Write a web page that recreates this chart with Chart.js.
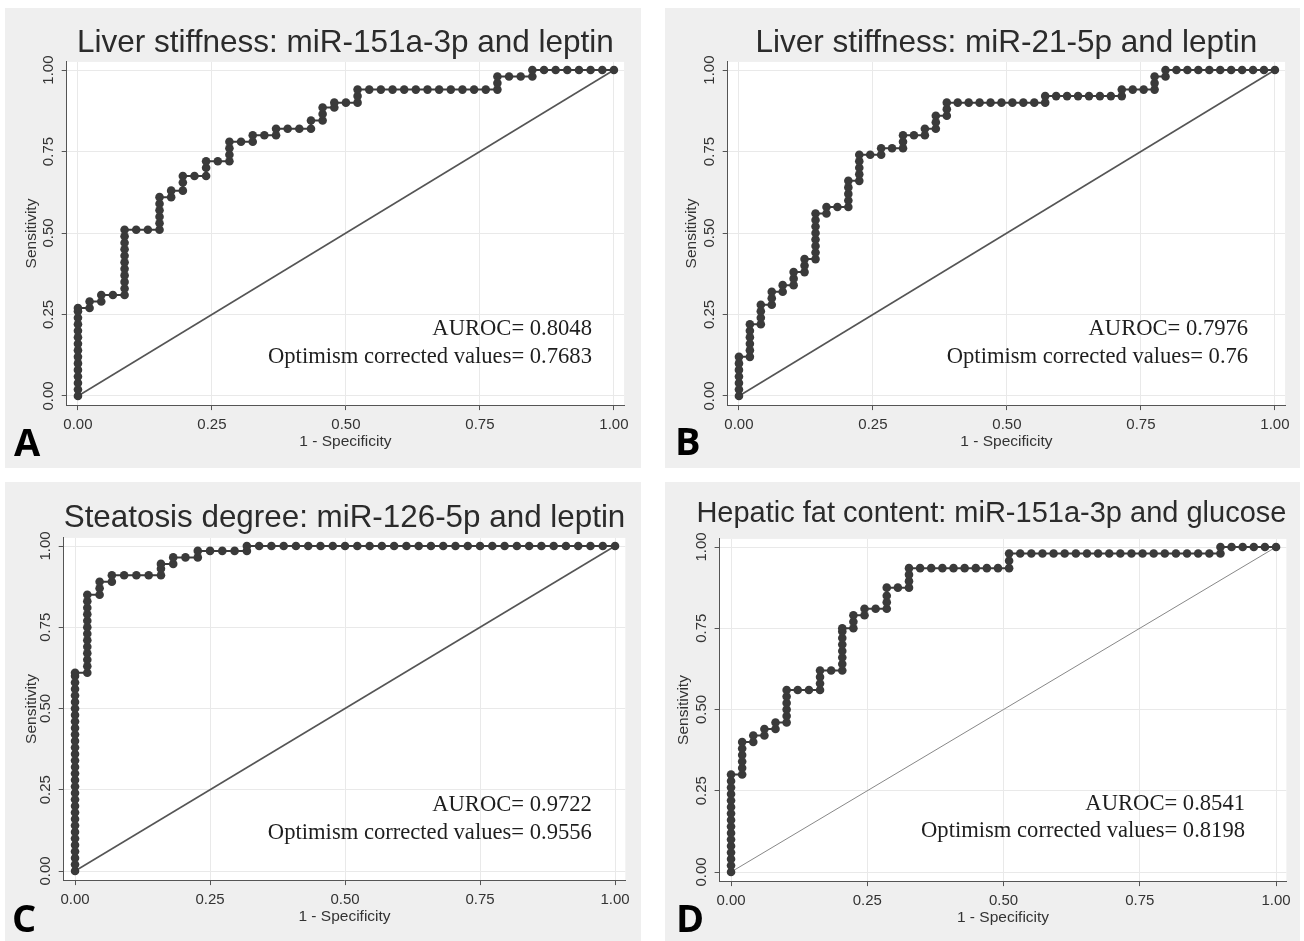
<!DOCTYPE html>
<html><head><meta charset="utf-8">
<script src="https://cdn.jsdelivr.net/npm/chart.js@4.4.1/dist/chart.umd.min.js"></script>
<style>
html,body{margin:0;padding:0;background:#fff;}
#page{position:relative;width:1304px;height:941px;overflow:hidden;background:#fff;}
.panel{position:absolute;background:#efefef;}
.panel canvas{position:absolute;left:0;top:0;}
</style></head><body><div id="page">
<div class="panel" style="left:5px;top:8px;width:636px;height:460px"><canvas id="cA" width="636" height="460"></canvas></div>
<div class="panel" style="left:665px;top:8px;width:635px;height:460px"><canvas id="cB" width="635" height="460"></canvas></div>
<div class="panel" style="left:5px;top:482px;width:636px;height:459px"><canvas id="cC" width="636" height="459"></canvas></div>
<div class="panel" style="left:665px;top:482px;width:635px;height:459px"><canvas id="cD" width="635" height="459"></canvas></div>
</div>
<script>
// ---------------- data ----------------
const X_TICKS = [0, 0.25, 0.5, 0.75, 1];
const Y_TICKS = [0, 0.25, 0.5, 0.75, 1];
const TITLES = ['Liver stiffness: miR-151a-3p and leptin', 'Liver stiffness: miR-21-5p and leptin',
  'Steatosis degree: miR-126-5p and leptin', 'Hepatic fat content: miR-151a-3p and glucose'];
const LETTERS = ['A', 'B', 'C', 'D'];
const AUROC = ['0.8048', '0.7976', '0.9722', '0.8541'];
const OPTIMISM = ['0.7683', '0.76', '0.9556', '0.8198'];
const X_TITLE = '1 - Specificity';
const Y_TITLE = 'Sensitivity';

// Panel A
const A_fpr = [
  0,0,0,0,0,0,0,0,0,0,0,0,0,0,0,
  .0217,.0217, .0435,.0435, .0652,
  .087,.087,.087,.087,.087,.087,.087,.087,.087,.087,.087,
  .1087, .1304,
  .1522,.1522,.1522,.1522,.1522,.1522,
  .1739,.1739, .1957,.1957,.1957, .2174, .2391,.2391,.2391, .2609,
  .2826,.2826,.2826,.2826, .3043, .3261,.3261, .3478, .3696,.3696, .3913, .413,
  .4348,.4348, .4565,.4565,.4565, .4783,.4783, .5, .5217,.5217,.5217,
  .5435,.5652,.587,.6087,.6304,.6522,.6739,.6957,.7174,.7391,.7609,
  .7826,.7826,.7826, .8043, .8261, .8478,.8478,
  .8696,.8913,.913,.9348,.9565,.9783,1];
const A_sens = [
  0,.02,.04,.06,.08,.10,.12,.14,.16,.18,.20,.22,.24,.26,.27,
  .27,.29, .29,.31, .31,
  .31,.33,.35,.37,.39,.41,.43,.45,.47,.49,.51,
  .51, .51,
  .51,.53,.55,.57,.59,.61,
  .61,.63, .63,.655,.675, .675, .675,.70,.72, .72,
  .72,.74,.76,.78, .78, .78,.80, .80, .80,.82, .82, .82,
  .82,.845, .845,.865,.885, .885,.90, .90, .90,.92,.94,
  .94,.94,.94,.94,.94,.94,.94,.94,.94,.94,.94,
  .94,.96,.98, .98, .98, .98,1,
  1,1,1,1,1,1,1];

// Panel B
const B_fpr = [
  0,0,0,0,0,0,0,
  .0204,.0204,.0204,.0204,.0204,.0204,
  .0408,.0408,.0408,.0408,
  .0612,.0612,.0612,
  .0816,.0816,
  .102,.102,.102,
  .1224,.1224,.1224,
  .1429,.1429,.1429,.1429,.1429,.1429,.1429,.1429,
  .1633,.1633, .1837,
  .2041,.2041,.2041,.2041,.2041,
  .2245,.2245,.2245,.2245,.2245,
  .2449, .2653,.2653, .2857, .3061,.3061,.3061, .3265, .3469,.3469,
  .3673,.3673,.3673, .3878,.3878,.3878,
  .4082,.4286,.449,.4694,.4898,.5102,.5306,.551,
  .5714,.5714,
  .5918,.6122,.6327,.6531,.6735,.6939,
  .7143,.7143, .7347, .7551, .7755,.7755,.7755, .7959,.7959,
  .8163,.8367,.8571,.8776,.898,.9184,.9388,.9592,.9796,1];
const B_sens = [
  0,.02,.04,.06,.08,.10,.12,
  .12,.14,.16,.18,.20,.22,
  .22,.24,.26,.28,
  .28,.30,.32,
  .32,.34,
  .34,.36,.38,
  .38,.40,.42,
  .42,.44,.46,.48,.50,.52,.54,.56,
  .56,.58, .58,
  .58,.60,.62,.64,.66,
  .66,.68,.70,.72,.74,
  .74, .74,.76, .76, .76,.78,.80, .80, .80,.82,
  .82,.84,.86, .86,.88,.90,
  .90,.90,.90,.90,.90,.90,.90,.90,
  .90,.92,
  .92,.92,.92,.92,.92,.92,
  .92,.94, .94, .94, .94,.96,.98, .98,1,
  1,1,1,1,1,1,1,1,1,1];

// Panel C
const C_fpr = [
  0,0,0,0,0,0,0,0,0,0,0,0,0,0,0,0,0,0,0,0,0,0,0,0,0,0,0,0,0,0,0,0,
  .0227,.0227,.0227,.0227,.0227,.0227,.0227,.0227,.0227,.0227,.0227,.0227,.0227,
  .0455,.0455,.0455, .0682,.0682,
  .0909,.1136,.1364,
  .1591,.1591,.1591, .1818,.1818, .2045, .2273,.2273,
  .25,.2727,.2955, .3182,.3182,
  .3409,.3636,.3864,.4091,.4318,.4545,.4773,.5,.5227,.5455,.5682,.5909,.6136,.6364,.6591,
  .6818,.7045,.7273,.75,.7727,.7955,.8182,.8409,.8636,.8864,.9091,.9318,.9545,.9773,1];
const C_sens = [
  0,.02,.04,.06,.08,.10,.12,.14,.16,.18,.20,.22,.24,.26,.28,.30,.32,.34,.36,.38,.40,.42,.44,.46,.48,.50,.52,.54,.56,.58,.60,.61,
  .61,.63,.65,.67,.69,.71,.73,.75,.77,.79,.81,.83,.85,
  .85,.87,.89, .89,.91,
  .91,.91,.91,
  .91,.93,.945, .945,.965, .965, .965,.985,
  .985,.985,.985, .985,1,
  1,1,1,1,1,1,1,1,1,1,1,1,1,1,1,
  1,1,1,1,1,1,1,1,1,1,1,1,1,1,1];

// Panel D
const D_fpr = [
  0,0,0,0,0,0,0,0,0,0,0,0,0,0,0,0,
  .0204,.0204,.0204,.0204,.0204,.0204,
  .0408,.0408, .0612,.0612, .0816,.0816,
  .102,.102,.102,.102,.102,.102,
  .1224, .1429,
  .1633,.1633,.1633,.1633, .1837,
  .2041,.2041,.2041,.2041,.2041,.2041,.2041,.2041,
  .2245,.2245,.2245, .2449,.2449, .2653,
  .2857,.2857,.2857,.2857, .3061, .3265,.3265,.3265,.3265,
  .3469,.3673,.3878,.4082,.4286,.449,.4694,.4898,
  .5102,.5102,.5102,
  .5306,.551,.5714,.5918,.6122,.6327,.6531,.6735,.6939,.7143,.7347,.7551,.7755,.7959,.8163,.8367,.8571,.8776,
  .898,.898,
  .9184,.9388,.9592,.9796,1];
const D_sens = [
  0,.02,.04,.06,.08,.10,.12,.14,.16,.18,.20,.22,.24,.26,.28,.30,
  .30,.32,.34,.36,.38,.40,
  .40,.42, .42,.44, .44,.46,
  .46,.48,.50,.52,.54,.56,
  .56, .56,
  .56,.58,.60,.62, .62,
  .62,.64,.66,.68,.70,.72,.74,.75,
  .75,.77,.79, .79,.81, .81,
  .81,.83,.85,.875, .875, .875,.895,.915,.935,
  .935,.935,.935,.935,.935,.935,.935,.935,
  .935,.958,.98,
  .98,.98,.98,.98,.98,.98,.98,.98,.98,.98,.98,.98,.98,.98,.98,.98,.98,.98,
  .98,1,
  1,1,1,1,1];

const FPR = [A_fpr, B_fpr, C_fpr, D_fpr];
const SENS = [A_sens, B_sens, C_sens, D_sens];

// ---------------- layout / style ----------------
const PANELS = [
  {id:'cA', pl:8, pr:16.9, pb:16.6, yw:53.7, tSize:31.5, tTop:16.1, tBot:0, tFull:false, tAlign:'center', yTitlePad:9.7, lx:9,  ly:448, ax:0.959, ay:[0.206,0.12], diagColor:'#555', diagW:1.6},
  {id:'cB', pl:8, pr:14.9, pb:16.6, yw:54.7, tSize:31.5, tTop:16.1, tBot:0, tFull:false, tAlign:'center', yTitlePad:9.7, lx:10, ly:447, ax:0.950, ay:[0.206,0.12], diagColor:'#555', diagW:1.6},
  {id:'cC', pl:8, pr:15.7, pb:14.6, yw:50.7, tSize:31.5, tTop:17.1, tBot:1.0, tFull:false, tAlign:'center', yTitlePad:9.7, lx:7,  ly:450, ax:0.957, ay:[0.203,0.117], diagColor:'#555', diagW:1.6},
  {id:'cD', pl:8, pr:13.6, pb:13.6, yw:46.6, tSize:29,   tTop:14.6, tBot:7.5, tFull:true,  tAlign:'end',    yTitlePad:1.7, lx:11, ly:450, ax:0.943, ay:[0.209,0.126], diagColor:'#888', diagW:1}
];
const X_MIN = -0.021, X_MAX = 1.019, Y_MIN = -0.028, Y_MAX = 1.025;

const plotBg = {
  id: 'plotBg',
  beforeDraw(chart) {
    const {ctx, chartArea: a} = chart;
    ctx.save(); ctx.fillStyle = '#ffffff';
    ctx.fillRect(a.left, a.top, a.right - a.left, a.bottom - a.top);
    ctx.restore();
  }
};
const panelText = {
  id: 'panelText',
  afterDatasetsDraw(chart, args, o) {
    const {ctx} = chart;
    const xs = chart.scales.x, ys = chart.scales.y;
    ctx.save();
    ctx.fillStyle = '#1e1e1e';
    ctx.font = '22.6px "Liberation Serif", "Times New Roman", serif';
    ctx.textAlign = 'right'; ctx.textBaseline = 'middle';
    o.lines.forEach((t, i) => ctx.fillText(t, xs.getPixelForValue(o.ax), ys.getPixelForValue(o.ay[i])));
    ctx.fillStyle = '#000';
    ctx.font = 'bold 38px "Open Sans", "Liberation Sans", sans-serif';
    ctx.textAlign = 'left'; ctx.textBaseline = 'alphabetic';
    ctx.fillText(o.letter, o.lx, o.ly);
    ctx.restore();
  }
};

const tickFont = {family: '"Liberation Sans", Arial, sans-serif', size: 15};
const axTitleFont = {family: '"Liberation Sans", Arial, sans-serif', size: 15.5};

PANELS.forEach((p, i) => {
  const roc = FPR[i].map((x, j) => ({x: x, y: SENS[i][j]}));
  new Chart(document.getElementById(p.id), {
    type: 'scatter',
    data: {
      datasets: [
        {data: roc, showLine: true, borderColor: '#3a3a3a', borderWidth: 2, backgroundColor: '#3a3a3a',
         pointRadius: 4.3, pointBorderWidth: 0, pointBackgroundColor: '#3a3a3a', tension: 0},
        {data: [{x: 0, y: 0}, {x: 1, y: 1}], showLine: true, borderColor: p.diagColor, borderWidth: p.diagW, pointRadius: 0}
      ]
    },
    options: {
      responsive: false, animation: false,
      layout: {padding: {left: p.pl, right: p.pr, top: 0, bottom: p.pb}},
      plugins: {
        legend: {display: false}, tooltip: {enabled: false},
        title: {display: true, text: TITLES[i], color: '#2b2b2b', fullSize: p.tFull, align: p.tAlign,
                font: {family: '"Liberation Sans", Arial, sans-serif', size: p.tSize, weight: 'normal', lineHeight: 1.2},
                padding: {top: p.tTop, bottom: p.tBot}},
        panelText: {lines: ['AUROC= ' + AUROC[i], 'Optimism corrected values= ' + OPTIMISM[i]],
                    ax: p.ax, ay: p.ay, letter: LETTERS[i], lx: p.lx, ly: p.ly}
      },
      scales: {
        x: {type: 'linear', min: X_MIN, max: X_MAX,
            afterBuildTicks: s => { s.ticks = X_TICKS.map(v => ({value: v})); },
            afterFit: s => { s.height = 46.3; },
            ticks: {font: tickFont, color: '#333', padding: 5.5, maxRotation: 0, callback: v => v.toFixed(2)},
            grid: {color: '#e9e9e9', lineWidth: 1, tickLength: 5, tickColor: '#555', drawTicks: true},
            border: {display: true, color: '#555', width: 1},
            title: {display: true, text: X_TITLE, color: '#333', font: axTitleFont, padding: {top: 0, bottom: 0}}},
        y: {type: 'linear', min: Y_MIN, max: Y_MAX,
            afterBuildTicks: s => { s.ticks = Y_TICKS.map(v => ({value: v})); },
            afterFit: s => { s.width = p.yw; },
            ticks: {font: tickFont, color: '#333', padding: -1.5, minRotation: 90, maxRotation: 90, crossAlign: 'center',
                    callback: v => v.toFixed(2)},
            grid: {color: '#e9e9e9', lineWidth: 1, tickLength: 5, tickColor: '#555', drawTicks: true},
            border: {display: true, color: '#555', width: 1},
            title: {display: true, text: Y_TITLE, color: '#333', font: axTitleFont, padding: {top: p.yTitlePad, bottom: 0}}}
      }
    },
    plugins: [plotBg, panelText]
  });
});
</script>
</body></html>
